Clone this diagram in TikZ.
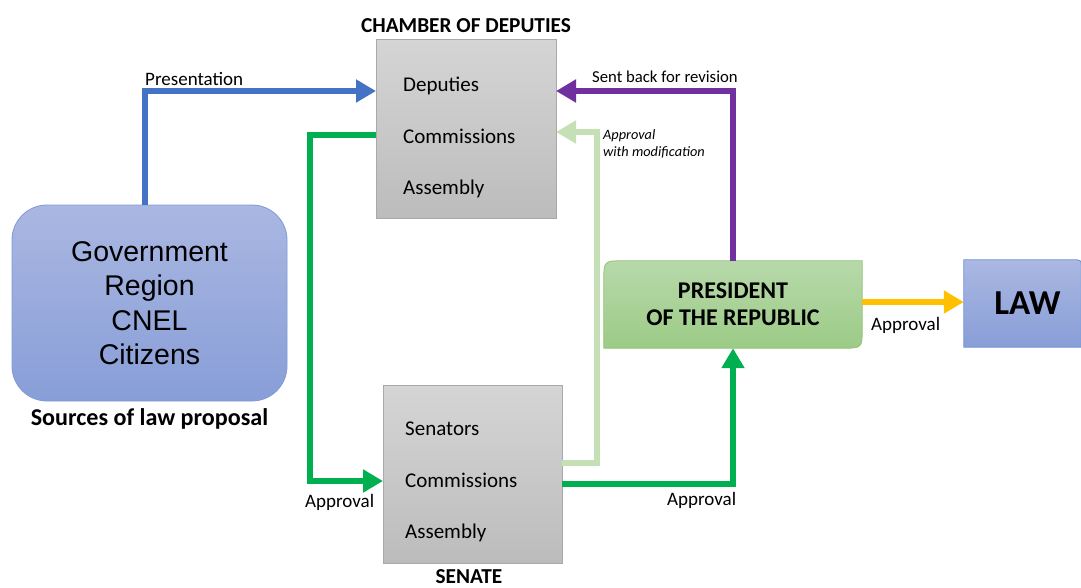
\documentclass[tikz,border=0pt]{standalone}
\usepackage{fontspec}
\setmainfont{Carlito}
\newfontfamily\arialfont{Liberation Sans}
\usetikzlibrary{arrows.meta,backgrounds}

\definecolor{graytop}{HTML}{D5D5D5}
\definecolor{graybot}{HTML}{BCBCBC}
\definecolor{grayline}{HTML}{A9A9A9}
\definecolor{srctop}{HTML}{AAB7E1}
\definecolor{srcbot}{HTML}{889ED8}
\definecolor{srcline}{HTML}{7E98D8}
\definecolor{prestop}{HTML}{B7D9AA}
\definecolor{presbot}{HTML}{9CCB86}
\definecolor{presline}{HTML}{8FC274}
\definecolor{lawtop}{HTML}{AAB8E2}
\definecolor{lawbot}{HTML}{889ED8}
\definecolor{lawline}{HTML}{6F90D8}
\definecolor{flowblue}{HTML}{4472C4}
\definecolor{flowgreen}{HTML}{00B050}
\definecolor{flowlight}{HTML}{C5E0B4}
\definecolor{flowpurple}{HTML}{7030A0}
\definecolor{flowyellow}{HTML}{FFC000}

\begin{document}
\begin{tikzpicture}[x=1pt,y=-1pt,
  graybox/.style={draw=grayline, line width=0.8pt, top color=graytop, bottom color=graybot,
    inner sep=0pt, outer sep=0pt},
  item/.style={anchor=base west, inner sep=0pt, font=\fontsize{21}{25}\selectfont},
  heading/.style={anchor=base, inner sep=0pt, font=\bfseries\fontsize{21.3}{25}\selectfont},
  lbl/.style={anchor=base west, inner sep=0pt, font=\fontsize{19}{22}\selectfont},
  flow/.style={line width=6.5pt, line join=miter, -{Triangle[length=20pt,width=22pt]}},
]
\useasboundingbox (0,0) rectangle (1081,587);

% ---- Chamber of Deputies
\node[graybox, minimum width=180pt, minimum height=179pt] (chamber) at (466,128.5) {};
\node[heading] (chamberhead) at (466,32) {CHAMBER OF DEPUTIES};
\node[item] (dep1) at (403,91) {Deputies};
\node[item] (dep2) at (403,143) {Commissions};
\node[item] (dep3) at (403,194) {Assembly};

% ---- Senate
\node[graybox, minimum width=179pt, minimum height=178pt] (senate) at (472.5,474) {};
\node[heading] (senatehead) at (469,583) {SENATE};
\node[item] (sen1) at (405,435) {Senators};
\node[item] (sen2) at (405,487) {Commissions};
\node[item] (sen3) at (405,538) {Assembly};

% ---- Sources of law proposal
\node[draw=srcline, line width=0.8pt, top color=srctop, bottom color=srcbot,
  rounded corners=35pt, minimum width=275pt, minimum height=196pt, inner sep=0pt,
  align=center, font=\arialfont\fontsize{28.5}{34.5}\selectfont] (sources) at (149.5,303)
  {Government\\Region\\CNEL\\Citizens};
\node[heading, font=\bfseries\fontsize{24.1}{28}\selectfont] (sourceshead) at (149.5,425)
  {Sources of law proposal};

% ---- President of the Republic
\node[minimum width=258pt, minimum height=87pt, inner sep=0pt, align=center,
  font=\bfseries\fontsize{24}{27}\selectfont] (president) at (733,304.5)
  {PRESIDENT\\OF THE REPUBLIC};

% ---- Law
\node[minimum width=117pt, minimum height=87pt, inner sep=0pt] (law) at (1022.5,303.5) {};
\node[inner sep=0pt, font=\bfseries\fontsize{35}{40}\selectfont] (lawtext) at (1027.5,303.5) {LAW};

\begin{scope}[on background layer]
  \path[draw=presline, line width=0.8pt, top color=prestop, bottom color=presbot]
    ([yshift=-20pt]president.north west) .. controls (president.north west) ..
    ([xshift=20pt]president.north west) -- (president.north east) --
    ([yshift=20pt]president.south east) .. controls (president.south east) ..
    ([xshift=-20pt]president.south east) -- (president.south west) -- cycle;
  \path[draw=lawline, line width=0.8pt, top color=lawtop, bottom color=lawbot]
    (law.south west) -- (law.north west) -- ([xshift=-8pt]law.north east)
    .. controls (law.north east) .. ([yshift=-8pt]law.north east) --
    (law.south east) -- cycle;
\end{scope}

% ---- Connectors
\coordinate (bendblue) at (145,91);
\coordinate (bendg1) at (310,135);
\coordinate (bendg2) at (310,481);
\coordinate (levg3) at (0,484);
\coordinate (bendlight) at (597,463);
\coordinate (toplight) at (597,132);
\coordinate (levpurple) at (0,91);
\coordinate (levyellow) at (0,302);

\draw[flow, draw=flowblue]
  (sources.north -| bendblue) -- (bendblue) -- (chamber.west |- bendblue);
\draw[flow, draw=flowgreen]
  (chamber.west |- bendg1) -- (bendg1) -- (bendg2) -- (senate.west |- bendg2);
\draw[flow, draw=flowgreen]
  (senate.east |- levg3) -| (president.south);
\draw[flow, draw=flowlight, line width=5.5pt]
  (senate.east |- bendlight) -- (bendlight) -- (toplight) -- (chamber.east |- toplight);
\draw[flow, draw=flowpurple]
  (president.north) |- (chamber.east |- levpurple);
\draw[flow, draw=flowyellow]
  (president.east |- levyellow) -- (law.west |- levyellow);

% ---- Connector labels
\node[lbl] (lblpresent) at (145,85) {Presentation};
\node[lbl, font=\fontsize{16.7}{20}\selectfont] (lblback) at (592,82) {Sent back for revision};
\node[lbl, font=\itshape\fontsize{14.3}{17}\selectfont, align=left, anchor=north west]
  (lblmod) at (603,129) {Approval\\with modification};
\node[lbl] (lblapp1) at (305,507) {Approval};
\node[lbl] (lblapp2) at (667,505) {Approval};
\node[lbl] (lblapp3) at (871,330) {Approval};
\end{tikzpicture}
\end{document}
